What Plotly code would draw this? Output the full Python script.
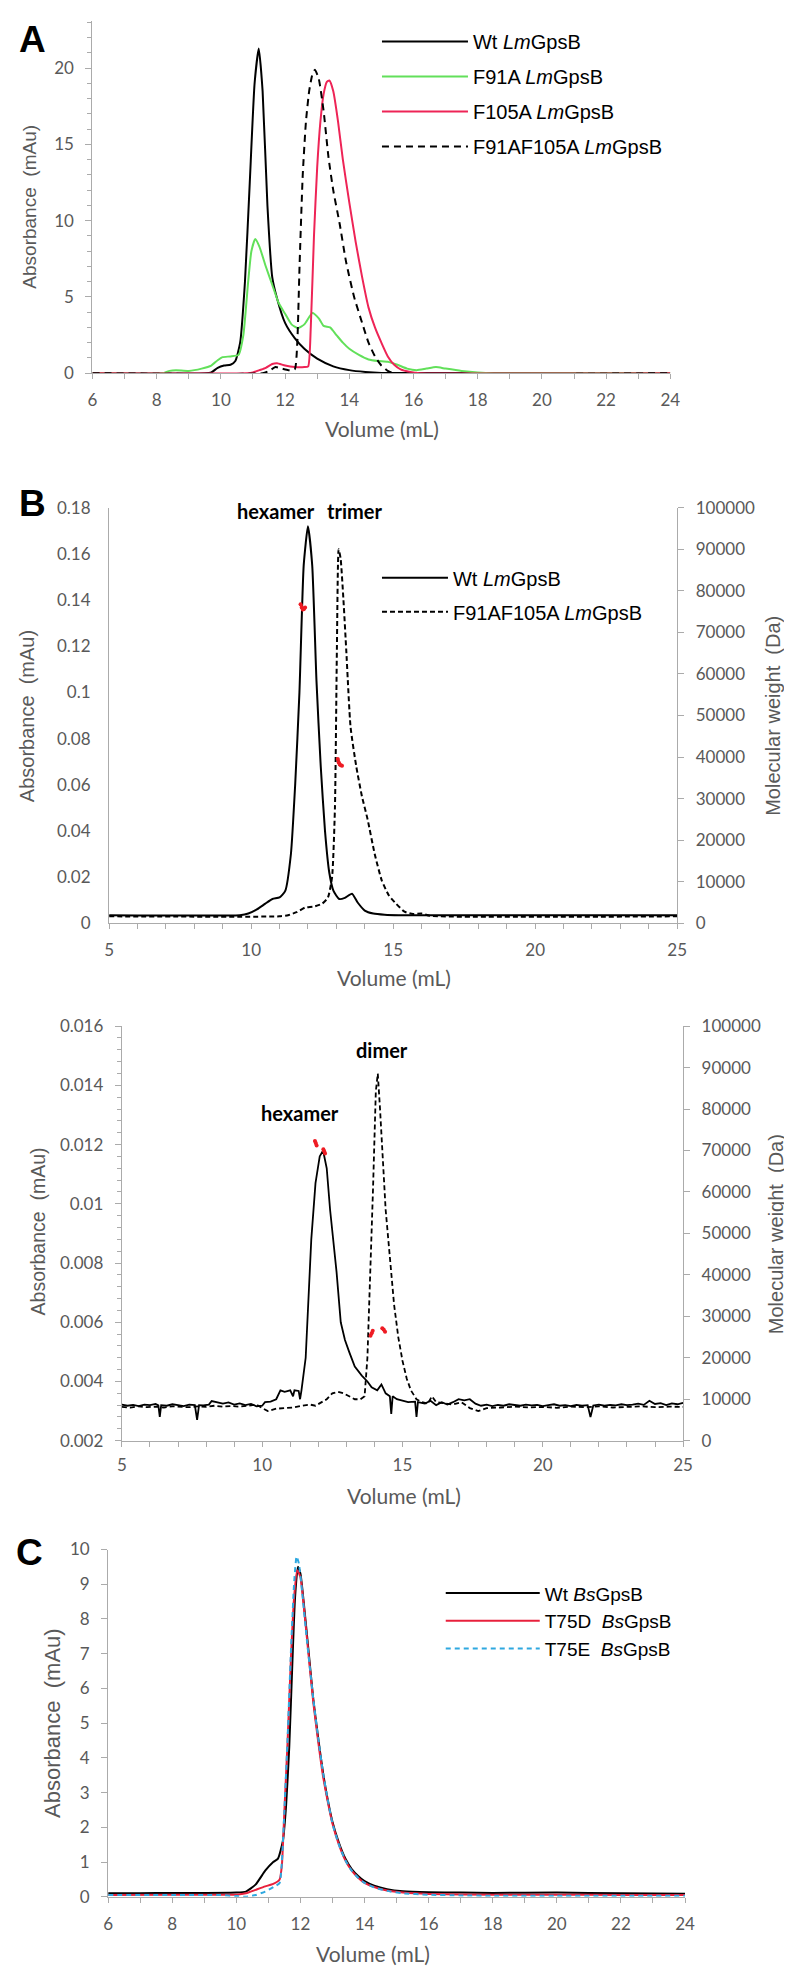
import plotly.graph_objects as go

W, H = 792, 1970

# ---------------- Panel A data (Volume mL, Absorbance mAu) ----------------
a_wt_x = [6, 9.5, 9.7, 9.9, 10.1, 10.3, 10.45, 10.6, 10.75, 10.9, 11.05, 11.18, 11.3, 11.45, 11.6, 11.75, 12.0, 12.3, 12.6, 13.0, 13.5, 14.0, 14.5, 15.0, 24]
a_wt_y = [0, 0, 0.05, 0.35, 0.5, 0.55, 0.8, 2.0, 6.0, 12.5, 19.0, 21.3, 18.5, 11.0, 6.3, 4.9, 3.3, 2.3, 1.6, 0.95, 0.45, 0.2, 0.08, 0.02, 0]

a_f91_x = [6, 8.2, 8.4, 8.6, 9.0, 9.4, 9.7, 9.9, 10.05, 10.3, 10.55, 10.7, 10.85, 10.95, 11.07, 11.2, 11.4, 11.6, 11.8, 12.0, 12.2, 12.4, 12.6, 12.85, 13.05, 13.2, 13.4, 13.6, 13.8, 14.0, 14.3, 14.6, 14.9, 15.2, 15.5, 15.8, 16.1, 16.4, 16.7, 17.0, 17.5, 18.0, 18.5, 24]
a_f91_y = [0, 0, 0.15, 0.2, 0.15, 0.3, 0.5, 0.85, 1.05, 1.1, 1.2, 2.5, 6.0, 8.0, 8.8, 8.3, 7.0, 5.8, 4.6, 3.9, 3.2, 2.95, 3.2, 3.95, 3.6, 3.1, 3.0, 2.5, 2.0, 1.6, 1.2, 0.9, 0.8, 0.75, 0.55, 0.3, 0.2, 0.3, 0.4, 0.3, 0.15, 0.05, 0, 0]

a_f105_x = [6, 10.8, 11.0, 11.2, 11.4, 11.6, 11.75, 12.0, 12.3, 12.6, 12.72, 12.8, 12.9, 13.0, 13.1, 13.2, 13.3, 13.38, 13.5, 13.65, 13.8, 14.0, 14.2, 14.4, 14.6, 14.8, 15.0, 15.2, 15.4, 15.6, 15.9, 16.2, 24]
a_f105_y = [0, 0, 0.05, 0.2, 0.35, 0.6, 0.65, 0.5, 0.4, 0.4, 0.45, 3.0, 9.0, 13.5, 16.5, 18.3, 19.1, 19.2, 18.5, 16.5, 14.0, 11.2, 8.6, 6.3, 4.3, 3.0, 2.0, 1.1, 0.55, 0.25, 0.08, 0, 0]

a_dbl_x = [6, 11.3, 11.5, 11.7, 11.9, 12.1, 12.3, 12.38, 12.45, 12.55, 12.65, 12.75, 12.85, 12.93, 13.05, 13.2, 13.35, 13.5, 13.7, 13.9, 14.15, 14.4, 14.6, 14.8, 15.0, 15.2, 15.4, 24]
a_dbl_y = [0, 0, 0.15, 0.4, 0.3, 0.2, 0.25, 2.0, 7.0, 13.0, 16.5, 18.5, 19.6, 19.9, 19.3, 17.2, 14.2, 12.0, 9.8, 7.3, 5.0, 3.3, 2.0, 1.1, 0.5, 0.15, 0, 0]

# ---------------- Panel B (upper) ----------------
b1_wt_x = [5, 9.6, 9.9, 10.2, 10.5, 10.75, 11.0, 11.2, 11.4, 11.55, 11.7, 11.85, 12.0, 12.15, 12.3, 12.45, 12.6, 12.75, 12.9, 13.1, 13.3, 13.55, 13.75, 14.0, 14.3, 14.7, 15.2, 25]
b1_wt_y = [0.0035, 0.0035, 0.0042, 0.006, 0.0085, 0.0105, 0.0112, 0.014, 0.03, 0.06, 0.1, 0.155, 0.172, 0.155, 0.105, 0.068, 0.04, 0.022, 0.014, 0.0105, 0.011, 0.0128, 0.009, 0.0055, 0.0042, 0.0037, 0.0035, 0.0035]

b1_dbl_x = [5, 11.0, 11.3, 11.6, 11.9, 12.2, 12.5, 12.7, 12.85, 12.95, 13.02, 13.08, 13.15, 13.25, 13.35, 13.5, 13.7, 13.9, 14.1, 14.35, 14.6, 14.85, 15.1, 15.4, 15.7, 16.0, 16.3, 25]
b1_dbl_y = [0.003, 0.003, 0.0035, 0.0048, 0.0068, 0.0072, 0.0085, 0.011, 0.02, 0.05, 0.12, 0.162, 0.158, 0.14, 0.118, 0.085, 0.068, 0.055, 0.045, 0.03, 0.0185, 0.012, 0.0085, 0.005, 0.004, 0.0042, 0.0032, 0.003]

b1_mw_hex_x = [11.74, 11.78, 11.82, 11.86, 11.9]
b1_mw_hex_y = [76800, 76000, 75500, 75600, 76000]
b1_mw_tri_x = [13.05, 13.08, 13.12, 13.16, 13.2]
b1_mw_tri_y = [39500, 38700, 38200, 38000, 37900]

# ---------------- Panel B (lower) ----------------
b2_wt_x = [5.0, 5.2, 5.4, 5.6, 5.8, 6.0, 6.2, 6.3, 6.35, 6.4, 6.6, 6.8, 7.0, 7.2, 7.4, 7.6, 7.68, 7.75, 7.9, 8.1,
           8.2, 8.4, 8.6, 8.8, 9.0, 9.2, 9.4, 9.6, 9.8, 10.0, 10.1, 10.3, 10.5, 10.65, 10.8, 11.0, 11.1, 11.15, 11.3, 11.35,
           11.4, 11.55, 11.65, 11.75, 11.9, 12.05, 12.17, 12.3, 12.42, 12.55, 12.65, 12.8, 12.95, 13.1, 13.3, 13.55, 13.75, 13.9, 14.1, 14.25,
           14.4, 14.55, 14.6, 14.65, 14.8, 15.0, 15.2, 15.45, 15.5, 15.55, 15.8, 16.0, 16.2, 16.4, 16.6, 16.8, 17.0, 17.2, 17.4, 17.6,
           17.8, 18.0, 18.2, 18.4, 18.6, 18.8, 19.0, 19.2, 19.4, 19.6, 19.8, 20.0, 20.2, 20.4, 20.6, 20.8, 21.0, 21.2, 21.4, 21.6,
           21.7, 21.8, 22.0, 22.2, 22.4, 22.6, 22.8, 23.0, 23.2, 23.4, 23.6, 23.8, 24.0, 24.2, 24.4, 24.6, 24.8, 25.0]
b2_wt_y = [0.00322, 0.00318, 0.00321, 0.00317, 0.00322, 0.0032, 0.00324, 0.00319, 0.0028, 0.0032, 0.00318, 0.00323, 0.0032, 0.00317, 0.00322, 0.0032, 0.0027, 0.0032, 0.00319, 0.00322,
           0.00334, 0.0033, 0.00325, 0.00329, 0.00322, 0.00326, 0.0032, 0.00324, 0.00316, 0.00318, 0.0033, 0.00332, 0.0034, 0.0037, 0.00365, 0.0037, 0.0035, 0.0037, 0.00368, 0.0034,
           0.0037, 0.0048, 0.007, 0.0088, 0.0107, 0.0116, 0.0118, 0.0112, 0.0098, 0.0086, 0.0077, 0.006, 0.0054, 0.005, 0.0045, 0.0042, 0.004, 0.0038, 0.0037, 0.0039,
           0.0036, 0.0035, 0.0029, 0.0035, 0.0034, 0.00335, 0.0033, 0.00332, 0.0028, 0.0033, 0.00325, 0.00335, 0.0032, 0.0033, 0.00322, 0.0033, 0.0034, 0.00336, 0.0034, 0.00325,
           0.00318, 0.00322, 0.00317, 0.00321, 0.00318, 0.00323, 0.0032, 0.00318, 0.00322, 0.00319, 0.00321, 0.00317, 0.0032, 0.00323, 0.00318, 0.0032, 0.00317, 0.00321, 0.00318, 0.0032,
           0.0028, 0.00319, 0.00322, 0.00318, 0.00321, 0.00319, 0.00323, 0.0032, 0.00322, 0.00325, 0.00321, 0.00335, 0.00324, 0.00327, 0.0032, 0.00326, 0.00323, 0.00328]

b2_dbl_x = [5.0, 5.3, 5.6, 5.9, 6.2, 6.5, 6.8, 7.1, 7.4, 7.7, 8.0, 8.3, 8.6, 8.9, 9.2, 9.5, 9.8, 10.0, 10.2, 10.5,
            10.8, 11.1, 11.4, 11.7, 11.9, 12.1, 12.3, 12.5, 12.7, 12.9, 13.1, 13.3, 13.5, 13.65, 13.75, 13.85, 13.95, 14.05, 14.12, 14.2,
            14.3, 14.4, 14.55, 14.7, 14.85, 15.0, 15.15, 15.3, 15.5, 15.7, 15.9, 16.05, 16.2, 16.5, 16.8, 17.1, 17.4, 17.7, 18.0, 18.5,
            19.0, 19.5, 20.0, 20.5, 21.0, 21.5, 22.0, 22.5, 23.0, 23.5, 24.0, 24.5, 25.0]
b2_dbl_y = [0.00314, 0.00312, 0.00316, 0.00313, 0.00315, 0.00312, 0.00316, 0.00314, 0.00313, 0.00316, 0.00314, 0.00318, 0.00315, 0.00317, 0.00315, 0.00318, 0.00322, 0.0031, 0.003, 0.00308,
            0.0031, 0.00312, 0.00318, 0.00322, 0.00318, 0.0033, 0.0034, 0.0036, 0.00365, 0.0036, 0.0035, 0.0034, 0.0034, 0.0035, 0.0048, 0.0075, 0.0105, 0.0138, 0.0144, 0.0132,
            0.0113, 0.0098, 0.0082, 0.0066, 0.0055, 0.0047, 0.0041, 0.0037, 0.0034, 0.0033, 0.00325, 0.0035, 0.0033, 0.00325, 0.00322, 0.0033, 0.0031, 0.003, 0.0031, 0.00312,
            0.00315, 0.00312, 0.00314, 0.00311, 0.00315, 0.00313, 0.00316, 0.00312, 0.00314, 0.00316, 0.00313, 0.00315, 0.00314]

b2_mw_hex1_x = [11.88, 11.91, 11.94]
b2_mw_hex1_y = [72300, 71800, 71200]
b2_mw_hex2_x = [12.18, 12.21, 12.24]
b2_mw_hex2_y = [70300, 69800, 69300]
b2_mw_dim1_x = [13.86, 13.9, 13.94]
b2_mw_dim1_y = [25300, 25900, 26500]
b2_mw_dim2_x = [14.28, 14.33, 14.38]
b2_mw_dim2_y = [27100, 26800, 26300]

# ---------------- Panel C ----------------
c_wt_x = [6, 7, 8, 9, 10, 10.3, 10.6, 10.9, 11.15, 11.3, 11.45, 11.55, 11.65, 11.75, 11.83, 11.92, 12.0, 12.1, 12.25, 12.4, 12.55, 12.7, 12.85, 13.0, 13.2, 13.4, 13.6, 13.8, 14.0, 14.3, 14.7, 15.2, 16, 17, 18, 20, 22, 24]
c_wt_y = [0.1, 0.1, 0.11, 0.11, 0.12, 0.15, 0.35, 0.75, 1.0, 1.1, 1.6, 2.6, 4.3, 6.8, 8.6, 9.5, 9.3, 8.5, 7.1, 5.7, 4.6, 3.6, 2.8, 2.15, 1.55, 1.1, 0.8, 0.6, 0.45, 0.32, 0.22, 0.16, 0.13, 0.12, 0.11, 0.12, 0.1, 0.09]

c_t75d_x = [6, 8, 10, 10.3, 10.6, 10.9, 11.15, 11.35, 11.42, 11.5, 11.6, 11.7, 11.8, 11.9, 12.0, 12.1, 12.25, 12.4, 12.55, 12.7, 12.85, 13.0, 13.2, 13.4, 13.6, 13.8, 14.0, 14.3, 14.7, 15.2, 16, 18, 20, 22, 24]
c_t75d_y = [0.05, 0.06, 0.06, 0.1, 0.2, 0.3, 0.37, 0.5, 0.9, 2.5, 4.5, 6.8, 8.6, 9.4, 9.2, 8.4, 7.0, 5.6, 4.5, 3.5, 2.75, 2.1, 1.5, 1.05, 0.75, 0.55, 0.4, 0.28, 0.18, 0.12, 0.08, 0.06, 0.06, 0.05, 0.05]

c_t75e_x = [6, 8, 9.5, 10.0, 10.3, 10.6, 10.9, 11.2, 11.35, 11.42, 11.5, 11.6, 11.7, 11.8, 11.88, 11.95, 12.05, 12.2, 12.4, 12.55, 12.7, 12.85, 13.0, 13.2, 13.4, 13.6, 13.8, 14.0, 14.3, 14.7, 15.2, 16, 17, 18, 20, 22, 24]
c_t75e_y = [0.05, 0.05, 0.05, 0.02, 0.0, 0.05, 0.15, 0.3, 0.4, 1.0, 2.5, 4.6, 7.0, 9.0, 9.8, 9.6, 8.8, 7.4, 5.7, 4.6, 3.6, 2.8, 2.1, 1.5, 1.05, 0.75, 0.55, 0.4, 0.27, 0.17, 0.1, 0.06, 0.04, 0.03, 0.03, 0.03, 0.03]

# ---------------- styling ----------------
AXC = "#ABABAB"
GRAY = "#595959"
TICKFONT = dict(family="Lato, Carlito, sans-serif", size=17, color=GRAY)
TITLEFONT = "Lato, Carlito, sans-serif"
YTFONT = "Liberation Sans, Arial, sans-serif"
LEGFONT = "Liberation Sans, Arial, sans-serif"
GREEN = "#62E05A"
RED_A = "#EE2456"
RED_C = "#E8203C"
BLUE = "#2EA8E0"
MWRED = "#EE1C24"


def px(p):
    return p / W


def py(p):
    return 1 - p / H


def xax(left, right, rng, dtick, anchor, standoff):
    return dict(domain=[px(left), px(right)], range=rng, dtick=dtick, tick0=0, anchor=anchor,
                showline=True, linecolor=AXC, linewidth=1.3, ticks="outside", ticklen=5,
                tickcolor=AXC, tickwidth=1, minor=dict(dtick=1, ticks="outside", ticklen=5, tickcolor=AXC),
                showgrid=False, zeroline=False, tickfont=TICKFONT, ticklabelstandoff=standoff)


def yax(bottom, top, rng, dtick, anchor, standoff, ticks="outside", minor=None, tick0=0):
    d = dict(domain=[py(bottom), py(top)], range=rng, dtick=dtick, tick0=tick0, anchor=anchor,
             showline=True, linecolor=AXC, linewidth=1.3, ticks=ticks, ticklen=6,
             tickcolor=AXC, tickwidth=1, showgrid=False, zeroline=False, tickfont=TICKFONT,
             ticklabelstandoff=standoff)
    if minor is not None:
        d["minor"] = dict(dtick=minor, ticks="outside", ticklen=4, tickcolor=AXC)
    return d


def ryax(overlay, anchor, standoff):
    return dict(overlaying=overlay, side="right", anchor=anchor, range=[0, 100000], dtick=10000,
                tickformat="d", showline=True, linecolor=AXC, linewidth=1.3, ticks="outside",
                ticklen=6, tickcolor=AXC, showgrid=False, zeroline=False, tickfont=TICKFONT,
                ticklabelstandoff=standoff)


fig = go.Figure()


def line(x, y, name, color, xa, ya, leg, dash="solid", width=2, shape="spline", show=True, group=None):
    fig.add_trace(go.Scatter(x=x, y=y, name=name, mode="lines", xaxis=xa, yaxis=ya,
                             line=dict(color=color, width=width, dash=dash, shape=shape,
                                       smoothing=0.5 if shape == "spline" else None),
                             legend=leg, showlegend=show, legendgroup=group, hoverinfo="skip"))


# Panel A
line(a_wt_x, a_wt_y, "Wt <i>Lm</i>GpsB", "black", "x", "y", "legend", group="a1")
line(a_f91_x, a_f91_y, "F91A <i>Lm</i>GpsB", GREEN, "x", "y", "legend", group="a2")
line(a_f105_x, a_f105_y, "F105A <i>Lm</i>GpsB", RED_A, "x", "y", "legend", group="a3")
line(a_dbl_x, a_dbl_y, "F91AF105A <i>Lm</i>GpsB", "black", "x", "y", "legend", dash="7px,5px", group="a4")

# Panel B upper
line(b1_wt_x, b1_wt_y, "Wt <i>Lm</i>GpsB", "black", "x2", "y2", "legend2", group="b1")
line(b1_dbl_x, b1_dbl_y, "F91AF105A <i>Lm</i>GpsB", "black", "x2", "y2", "legend2", dash="5px,3px", group="b2")
for mx, my in [(b1_mw_hex_x, b1_mw_hex_y), (b1_mw_tri_x, b1_mw_tri_y)]:
    fig.add_trace(go.Scatter(x=mx, y=my, mode="lines+markers", xaxis="x2", yaxis="y3",
                             line=dict(color=MWRED, width=3), marker=dict(color=MWRED, size=4),
                             showlegend=False, hoverinfo="skip"))

# Panel B lower
line(b2_wt_x, b2_wt_y, "Wt", "black", "x3", "y4", "legend2", width=1.8, shape="linear", show=False)
line(b2_dbl_x, b2_dbl_y, "F91AF105A", "black", "x3", "y4", "legend2", dash="5px,3px", width=1.8, shape="linear", show=False)
for mx, my in [(b2_mw_hex1_x, b2_mw_hex1_y), (b2_mw_hex2_x, b2_mw_hex2_y),
               (b2_mw_dim1_x, b2_mw_dim1_y), (b2_mw_dim2_x, b2_mw_dim2_y)]:
    fig.add_trace(go.Scatter(x=mx, y=my, mode="lines+markers", xaxis="x3", yaxis="y5",
                             line=dict(color=MWRED, width=3), marker=dict(color=MWRED, size=4),
                             showlegend=False, hoverinfo="skip"))

# Panel C
line(c_wt_x, c_wt_y, "Wt <i>Bs</i>GpsB", "black", "x4", "y6", "legend3")
line(c_t75d_x, c_t75d_y, "T75D  <i>Bs</i>GpsB", RED_C, "x4", "y6", "legend3")
line(c_t75e_x, c_t75e_y, "T75E  <i>Bs</i>GpsB", BLUE, "x4", "y6", "legend3", dash="5px,4px")

fig.update_layout(
    width=W, height=H, margin=dict(l=0, r=0, t=0, b=0),
    paper_bgcolor="white", plot_bgcolor="rgba(0,0,0,0)",
    xaxis=xax(81, 670, [6, 24], 2, "y", 6),
    yaxis=yax(358, 2, [0, 23.1], 5, "x", 8, minor=1),
    xaxis2=xax(98, 677, [5, 25], 5, "y2", 6),
    yaxis2=yax(914, 494, [0, 0.18], 0.02, "x2", 14, ticks=""),
    yaxis3=ryax("y2", "x2", 8),
    xaxis3=xax(111, 683, [5, 25], 5, "y4", 4),
    yaxis4=yax(1437, 1018, [0.002, 0.016], 0.002, "x3", 8, minor=0.0004),
    yaxis5=ryax("y4", "x3", 8),
    xaxis4=xax(97, 685, [6, 24], 2, "y6", 7),
    yaxis6=yax(1898, 1547, [0, 10], 1, "x4", 8),
    legend=dict(x=px(371), y=py(3), xanchor="left", yanchor="top", bgcolor="rgba(0,0,0,0)",
                font=dict(family=LEGFONT, size=20, color="black"), tracegroupgap=6, traceorder="grouped",
                itemwidth=86),
    legend2=dict(x=px(371), y=py(545), xanchor="left", yanchor="top", bgcolor="rgba(0,0,0,0)",
                 font=dict(family=LEGFONT, size=20, color="black"), tracegroupgap=5, traceorder="grouped",
                 itemwidth=66),
    legend3=dict(x=px(436), y=py(1572), xanchor="left", yanchor="top", bgcolor="rgba(0,0,0,0)",
                 font=dict(family=LEGFONT, size=19, color="black"), itemwidth=94),
    showlegend=True,
)

ann = []


def txt(x, y, s, size, family, color=GRAY, angle=0, bold=False, xref="paper", yref="paper"):
    if bold:
        s = "<b>" + s + "</b>"
    ann.append(dict(x=x, y=y, xref=xref, yref=yref, text=s, showarrow=False, textangle=angle,
                    xanchor="center", yanchor="middle",
                    font=dict(family=family, size=size, color=color)))


# panel letters
txt(px(20), py(21), "A", 37, "Liberation Sans, Arial, sans-serif", "black", bold=True)
txt(px(20), py(490), "B", 37, "Liberation Sans, Arial, sans-serif", "black", bold=True)
txt(px(17), py(1550), "C", 37, "Liberation Sans, Arial, sans-serif", "black", bold=True)

# axis titles
txt(px(376), py(414), "Volume (mL)", 21, TITLEFONT)
txt(px(17), py(190), "Absorbance  (mAu)", 19, YTFONT, angle=-90)
txt(px(388), py(969), "Volume (mL)", 21, TITLEFONT)
txt(px(15), py(705), "Absorbance  (mAu)", 20, YTFONT, angle=-90)
txt(px(775), py(704), "Molecular weight  (Da)", 20, YTFONT, angle=-90)
txt(px(399), py(1492), "Volume (mL)", 21, TITLEFONT)
txt(px(25), py(1226), "Absorbance  (mAu)", 19.5, YTFONT, angle=-90)
txt(px(778), py(1228), "Molecular weight  (Da)", 20, YTFONT, angle=-90)
txt(px(367), py(1955), "Volume (mL)", 21, TITLEFONT)
txt(px(40), py(1722), "Absorbance  (mAu)", 22, YTFONT, angle=-90)

# oligomer labels
txt(10.87, 0.1787, "hexamer", 20, TITLEFONT, "black", bold=True, xref="x2", yref="y2")
txt(13.64, 0.1787, "trimer", 20, TITLEFONT, "black", bold=True, xref="x2", yref="y2")
txt(14.27, 0.0152, "dimer", 20, TITLEFONT, "black", bold=True, xref="x3", yref="y4")
txt(11.36, 0.01306, "hexamer", 20, TITLEFONT, "black", bold=True, xref="x3", yref="y4")

fig.update_layout(annotations=ann)
fig.write_html("out.html")
